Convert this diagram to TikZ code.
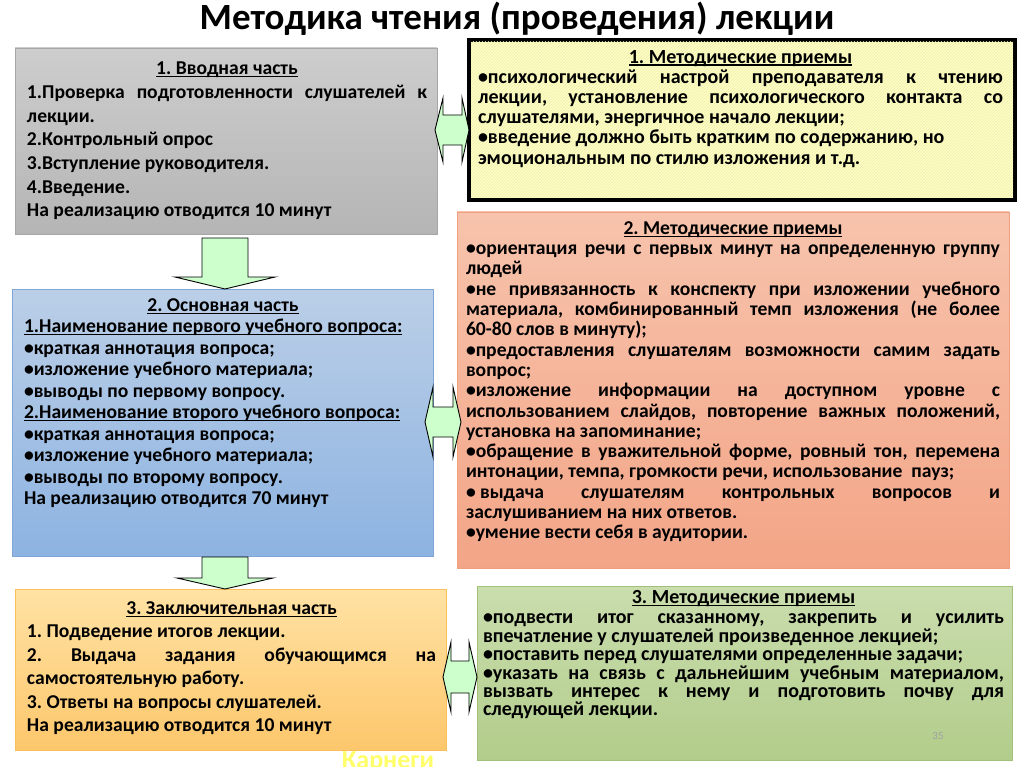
\documentclass[tikz,border=0pt]{standalone}
\usepackage{fontspec}
\setmainfont{Carlito}
\usetikzlibrary{patterns}
\definecolor{grayT}{HTML}{CDCDCD}
\definecolor{grayB}{HTML}{B5B5B5}
\definecolor{grayE}{HTML}{A6A6A6}
\definecolor{yelF}{HTML}{FFFFC4}
\definecolor{yelP}{HTML}{EDEDB0}
\definecolor{salT}{HTML}{F7C3AC}
\definecolor{salB}{HTML}{F3A587}
\definecolor{salE}{HTML}{F0A07E}
\definecolor{bluT}{HTML}{BBCFE7}
\definecolor{bluB}{HTML}{8DB3E1}
\definecolor{bluE}{HTML}{7FA6D6}
\definecolor{orgT}{HTML}{FFE2A4}
\definecolor{orgB}{HTML}{FDC76C}
\definecolor{orgE}{HTML}{F7C05A}
\definecolor{grnT}{HTML}{CADDAE}
\definecolor{grnB}{HTML}{B2CD8B}
\definecolor{grnE}{HTML}{A2C079}
\definecolor{arrF}{HTML}{CCFFCC}
\definecolor{karn}{HTML}{FFFF6A}
\definecolor{pnum}{HTML}{A0A0A0}
\newcommand\Stt{\rule[-5pt]{0pt}{20pt}}
\newcommand\UL[1]{\setbox0=\hbox{#1}\rlap{\rule[-2.4pt]{\wd0}{1.1pt}}\box0}
\newcommand\JL[1]{\par\hbox to\hsize{\spaceskip=0pt\xspaceskip=0pt\Stt #1}}
\newcommand\LL[1]{\par\hbox{\spaceskip=0pt\xspaceskip=0pt\Stt #1}}
\newcommand\CL[1]{\par\hbox to\hsize{\spaceskip=0pt\xspaceskip=0pt\Stt\hfil\UL{#1}\hfil}}
\newcommand\bsp{\kern0.22em\relax}
\tikzset{
  boxbase/.style={rectangle, inner sep=0pt, outer sep=0pt},
  graybox/.style={boxbase, top color=grayT, bottom color=grayB, draw=grayE, line width=0.8pt},
  yelbox/.style={boxbase, fill=yelF, draw=black, line width=4pt},
  salbox/.style={boxbase, top color=salT, bottom color=salB, draw=salE, line width=0.8pt},
  blubox/.style={boxbase, top color=bluT, bottom color=bluB, draw=bluE, line width=0.8pt},
  orgbox/.style={boxbase, top color=orgT, bottom color=orgB, draw=orgE, line width=0.8pt},
  grnbox/.style={boxbase, top color=grnT, bottom color=grnB, draw=grnE, line width=0.8pt},
  txt/.style={anchor=north west, inner sep=0pt, outer sep=0pt, text width=#1,
    execute at begin node={\hbadness=10000\hfuzz=50pt\parindent=0pt\parskip=0pt\lineskiplimit=-100pt\frenchspacing}},
  fatarrow/.style={fill=arrF, draw=black, line width=0.9pt, line join=miter},
}
\begin{document}
\begin{tikzpicture}[x=1pt,y=-1pt]
\useasboundingbox (0,0) rectangle (1024,767);
\fill[white] (0,0) rectangle (1024,767);

% title
\node[inner sep=0pt, font=\fontsize{37}{42}\selectfont\bfseries] (title) at (517,19) {Методика чтения (проведения) лекции};

% boxes
\node[graybox, minimum width=422pt, minimum height=186pt] (b1) at (226,141) {};
\node[yelbox, minimum width=546pt, minimum height=160pt] (y1) at (742,120) {};
\fill[pattern=north east lines, pattern color=yelP] ([xshift=2pt,yshift=-2pt]y1.north west) rectangle ([xshift=-2pt,yshift=2pt]y1.south east);
\node[salbox, minimum width=552pt, minimum height=356pt] (s2) at (733,390) {};
\node[blubox, minimum width=421pt, minimum height=267pt] (b2) at (222.5,422.5) {};
\node[orgbox, minimum width=431pt, minimum height=161pt] (o3) at (230.5,669.5) {};
\node[grnbox, minimum width=535pt, minimum height=174pt] (g3) at (744.5,673) {};

% texts
\node[txt=400pt, font=\fontsize{19.6}{23.7}\selectfont\bfseries] (t1) at (27,51) {%
\CL{1. Вводная часть}
\JL{1.Проверка подготовленности слушателей к}
\LL{лекции.}
\LL{2.Контрольный опрос}
\LL{3.Вступление руководителя.}
\LL{4.Введение.}
\LL{На реализацию отводится 10 минут}};

\node[txt=525pt, font=\fontsize{20}{20.2}\selectfont\bfseries] (ty) at (478,43) {%
\CL{1. Методические приемы}
\JL{•психологический настрой преподавателя к чтению}
\JL{лекции, установление психологического контакта со}
\LL{слушателями, энергичное начало лекции;}
\LL{•введение должно быть кратким по содержанию, но}
\LL{эмоциональным по стилю изложения и т.д.}};

\node[txt=534pt, font=\fontsize{19.6}{20.3}\selectfont\bfseries] (ts) at (466,214) {%
\CL{2. Методические приемы}
\JL{•ориентация речи с первых минут на определенную группу}
\LL{людей}
\JL{•не привязанность к конспекту при изложении учебного}
\JL{материала, комбинированный темп изложения (не более}
\LL{60-80 слов в минуту);}
\JL{•предоставления слушателям возможности самим задать}
\LL{вопрос;}
\JL{•изложение информации на доступном уровне с}
\JL{использованием слайдов, повторение важных положений,}
\LL{установка на запоминание;}
\JL{•обращение в уважительной форме, ровный тон, перемена}
\LL{интонации, темпа, громкости речи, использование\ \ пауз;}
\JL{•\bsp выдача слушателям контрольных вопросов и}
\LL{заслушиванием на них ответов.}
\LL{•умение вести себя в аудитории.}};

\node[txt=398pt, font=\fontsize{19.6}{21.45}\selectfont\bfseries] (tb) at (24,290) {%
\CL{2. Основная часть}
\LL{\UL{1.Наименование первого учебного вопроса:}}
\LL{•краткая аннотация вопроса;}
\LL{•изложение учебного материала;}
\LL{•выводы по первому вопросу.}
\LL{\UL{2.Наименование второго учебного вопроса:}}
\LL{•краткая аннотация вопроса;}
\LL{•изложение учебного материала;}
\LL{•выводы по второму вопросу.}
\LL{На реализацию отводится 70 минут}};

\node[txt=409pt, font=\fontsize{19.6}{23.4}\selectfont\bfseries] (to) at (27,591) {%
\CL{3. Заключительная часть}
\LL{1. Подведение итогов лекции.}
\JL{2. Выдача задания обучающимся на}
\LL{самостоятельную работу.}
\LL{3. Ответы на вопросы слушателей.}
\LL{На реализацию отводится 10 минут}};

\node[txt=521pt, font=\fontsize{20}{18.4}\selectfont\bfseries] (tg) at (483,585) {%
\CL{3. Методические приемы}
\vskip 2pt
\JL{•подвести итог сказанному, закрепить и усилить}
\LL{впечатление у слушателей произведенное лекцией;}
\LL{•поставить перед слушателями определенные задачи;}
\JL{•указать на связь с дальнейшим учебным материалом,}
\JL{вызвать интерес к нему и подготовить почву для}
\LL{следующей лекции.}};

% down arrows
\draw[fatarrow] (202,238) -- (248,238) -- (248,277) -- (275,277) -- (225,289) -- (175,277) -- (202,277) -- cycle;
\draw[fatarrow] (202,557) -- (248,557) -- (248,578) -- (273,578) -- (225,589) -- (177,578) -- (202,578) -- cycle;

% double arrows
\draw[fatarrow] (435,130) -- (443,98) -- (443,115) -- (462,115) -- (462,98) -- (469,130) -- (462,162) -- (462,145) -- (443,145) -- (443,162) -- cycle;
\draw[fatarrow] (425,422) -- (433,387) -- (433,407) -- (453,407) -- (453,387) -- (461,422) -- (453,457) -- (453,437) -- (433,437) -- (433,457) -- cycle;
\draw[fatarrow] (443,677) -- (451,642) -- (451,661) -- (469,661) -- (469,642) -- (477,677) -- (469,712) -- (469,693) -- (451,693) -- (451,712) -- cycle;

% extra labels
\node[inner sep=0pt, anchor=base, text=pnum, font=\fontsize{11}{13}\selectfont] (pn) at (938,739) {35};
\node[inner sep=0pt, anchor=base, text=karn, font=\fontsize{26}{30}\selectfont\bfseries] (kar) at (388,768) {Карнеги};
\end{tikzpicture}
\end{document}
